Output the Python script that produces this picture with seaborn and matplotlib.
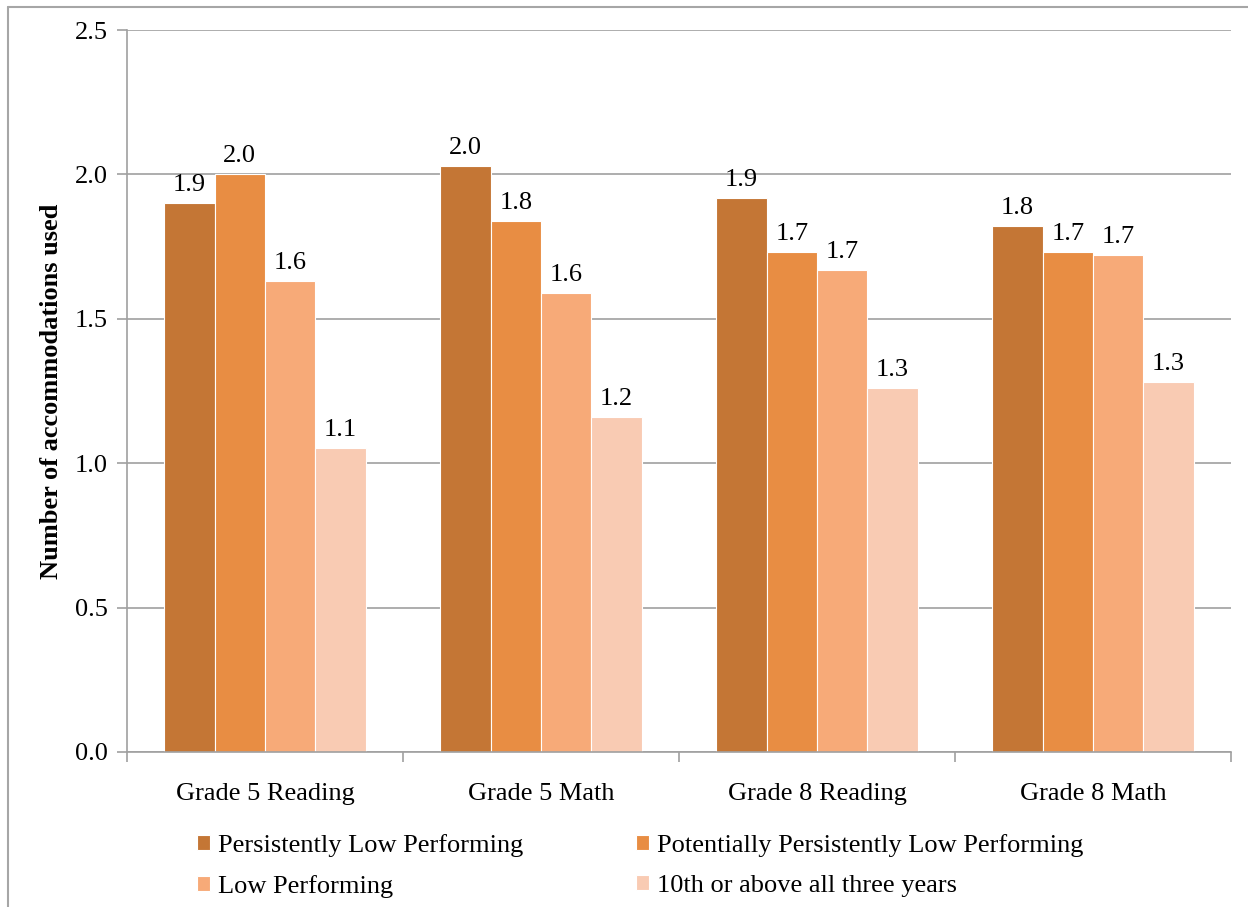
import matplotlib
matplotlib.use("Agg")
import matplotlib.pyplot as plt
from matplotlib.lines import Line2D
import seaborn as sns
import pandas as pd

# Subjects/grades along the x axis
categories = ["Grade 5 Reading", "Grade 5 Math", "Grade 8 Reading", "Grade 8 Math"]

# School performance groups (bar series)
series = [
    "Persistently Low Performing",
    "Potentially Persistently Low Performing",
    "Low Performing",
    "10th or above all three years",
]

# Mean number of accommodations used, per group
persistently_low = [1.90, 2.03, 1.92, 1.82]
potentially_persistently_low = [2.00, 1.84, 1.73, 1.73]
low_performing = [1.63, 1.59, 1.67, 1.72]
tenth_or_above = [1.052, 1.16, 1.26, 1.28]

palette = ["#C47635", "#E88D43", "#F7AA78", "#F9CBB3"]

sns.set_style("white")
plt.rcParams["font.family"] = ["Liberation Serif", "DejaVu Serif"]
plt.rcParams["text.color"] = "black"
plt.rcParams["axes.labelcolor"] = "black"
FS = 19

rows = []
for name, vals in zip(series, [persistently_low, potentially_persistently_low,
                               low_performing, tenth_or_above]):
    for cat, v in zip(categories, vals):
        rows.append({"category": cat, "group": name, "value": v})
df = pd.DataFrame(rows)

fig = plt.figure(figsize=(12.48, 9.07), dpi=100)
ax = fig.add_axes([0.1018, 0.1709, 0.8846, 0.7960])

sns.barplot(data=df, x="category", y="value", hue="group", order=categories,
            hue_order=series, palette=palette, width=0.73, gap=0,
            edgecolor="white", linewidth=0.8, saturation=1, ax=ax,
            errorbar=None)

for cont in ax.containers:
    ax.bar_label(cont, fmt="%.1f", padding=5, fontsize=FS, color="black")

grid_c = "#A0A0A0"
ticks = [0, 0.5, 1.0, 1.5, 2.0, 2.5]
ax.set_ylim(0, 2.5)
ax.set_xlim(-0.5, 3.5)
ax.set_yticks(ticks)
ax.set_yticklabels([f"{t:.1f}" for t in ticks])
ax.yaxis.grid(True, color=grid_c, linewidth=1.2)
ax.set_axisbelow(True)

for side in ["top", "right"]:
    ax.spines[side].set_visible(False)
for side in ["left", "bottom"]:
    ax.spines[side].set_color(grid_c)
    ax.spines[side].set_linewidth(1.2)

ax.tick_params(axis="y", length=7, width=1.2, color=grid_c, pad=7,
               labelsize=FS, labelcolor="black", left=True)
ax.set_xticks([-0.5, 0.5, 1.5, 2.5, 3.5], minor=True)
ax.tick_params(axis="x", which="minor", length=7, width=1.2, color=grid_c,
               bottom=True)
ax.tick_params(axis="x", which="major", length=0, pad=22, labelsize=FS,
               labelcolor="black")

ax.set_xlabel("")
ax.set_ylabel("Number of accommodations used", fontsize=FS, fontweight="bold",
              labelpad=8, color="black")

# legend filled row by row (two columns)
handles, labels = ax.get_legend_handles_labels()
order = [0, 2, 1, 3]
ax.legend([handles[i] for i in order], [labels[i] for i in order],
          loc="upper left", bbox_to_anchor=(0.158, 0.081),
          bbox_transform=fig.transFigure, ncol=2, frameon=False, fontsize=FS,
          handlelength=0.5, handleheight=0.5, handletextpad=0.3,
          columnspacing=4.25, labelspacing=0.7, borderaxespad=0,
          borderpad=0, labelcolor="black")

# outer chart frame (top and left edges)
frame_c = "#A6A6A6"
fig.add_artist(Line2D([0.0064, 1.0], [0.9923, 0.9923], transform=fig.transFigure,
                      color=frame_c, linewidth=1.5))
fig.add_artist(Line2D([0.0064, 0.0064], [0.0, 0.9923], transform=fig.transFigure,
                      color=frame_c, linewidth=1.5))

fig.savefig("out.png", dpi=100)
